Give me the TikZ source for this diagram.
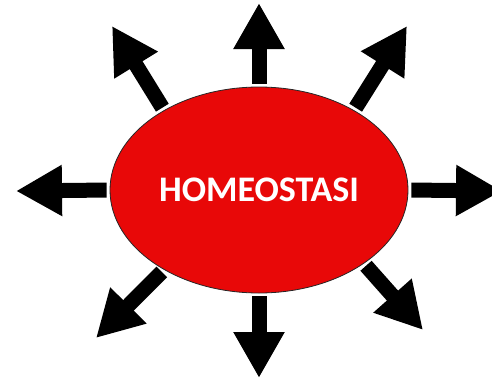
\documentclass[tikz,border=0pt]{standalone}
\usepackage{fontspec}
\setsansfont{Carlito}
\usetikzlibrary{shapes,arrows.meta,positioning}
\definecolor{homeored}{RGB}{232,8,8}

\begin{document}
\begin{tikzpicture}[x=1pt,y=-1pt,>={Triangle[width=48pt,length=46pt]}]
                \tikzstyle{center}=[ellipse,draw=black!85,line width=0.8pt,fill=homeored,text=white,minimum width=298pt,minimum height=206pt,inner sep=0pt,font=\sffamily\bfseries\fontsize{36}{40}\selectfont]
                \tikzstyle{spoke}=[->,draw=black,line width=15pt,shorten <=3pt]
                
                \clip (0,0) rectangle (492,380);
                \node[center] at (259,190) (homeo) {HOMEOSTASI};
                
                \coordinate (n) at (259,3);
                \coordinate (s) at (259,378);
                \coordinate (w) at (16,191);
                \coordinate (e) at (502,191);
                \coordinate (nw) at (112,26);
                \coordinate (ne) at (407,26);
                \coordinate (sw) at (96,338);
                \coordinate (se) at (423,330);
                
                \path (homeo.90)	edge[spoke]	(n);
                \path (homeo.270)	edge[spoke]	(s);
                \path (homeo.180)	edge[spoke]	(w);
                \path (homeo.0)	edge[spoke]	(e);
                \path (homeo.140)	edge[spoke]	(nw);
                \path (homeo.40)	edge[spoke]	(ne);
                \path (homeo.220)	edge[spoke]	(sw);
                \path (homeo.325)	edge[spoke]	(se);
\end{tikzpicture}
\end{document}
